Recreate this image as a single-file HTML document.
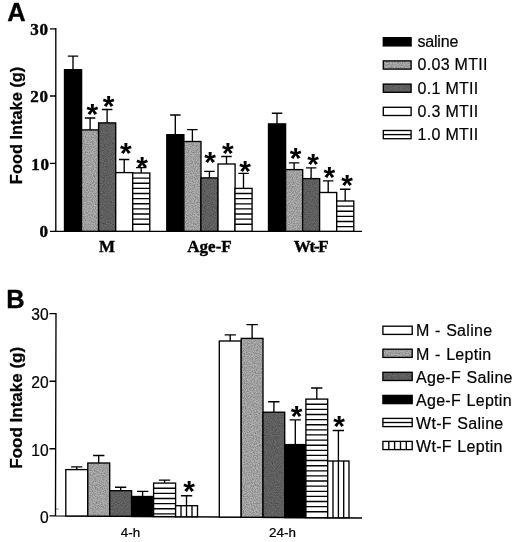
<!DOCTYPE html>
<html lang="en">
<head>
<meta charset="utf-8">
<title>Food intake figure</title>
<style>
html,body{margin:0;padding:0;background:#fff;}
body{width:520px;height:542px;overflow:hidden;}
svg{display:block;}
text{fill:#000;}
.sb{font-family:"Liberation Serif",serif;font-weight:bold;font-size:17px;stroke:#000;stroke-width:0.4px;}
.tk{font-family:"Liberation Sans",sans-serif;font-size:15.6px;stroke:#000;stroke-width:0.22px;}
.lg{font-family:"Liberation Sans",sans-serif;font-size:16px;letter-spacing:0.3px;stroke:#000;stroke-width:0.2px;}
.yl{font-family:"Liberation Sans",sans-serif;font-weight:bold;font-size:16.4px;stroke:#000;stroke-width:0.25px;}
.pl{font-family:"Liberation Sans",sans-serif;font-weight:bold;font-size:25.5px;stroke:#000;stroke-width:0.3px;}
.st{font-family:"Liberation Sans",sans-serif;font-weight:bold;text-anchor:middle;dominant-baseline:auto;}
</style>
</head>
<body>
<svg width="520" height="542" viewBox="0 0 520 542">
<defs>
<filter id="nz" x="0" y="0" width="100%" height="100%" color-interpolation-filters="sRGB">
<feTurbulence type="fractalNoise" baseFrequency="0.9" numOctaves="2" seed="7" result="t"/>
<feColorMatrix in="t" type="matrix" values="0 0 0 0 0  0 0 0 0 0  0 0 0 0 0  0.6 0 0 0 -0.215" result="a"/>
<feFlood flood-color="#000" result="k"/>
<feComposite in="k" in2="a" operator="in" result="dots"/>
<feComposite in="dots" in2="SourceGraphic" operator="in" result="d2"/>
<feMerge><feMergeNode in="SourceGraphic"/><feMergeNode in="d2"/></feMerge>
</filter>
</defs>
<rect width="520" height="542" fill="#fff"/>
<path d="M50 28.8H55.8M50 96H55.8M50 163.4H55.8M50 231.3H55.8M55.8 28.1V231.3H362" fill="none" stroke="#000" stroke-width="1.35"/>
<path d="M67.8 56.1H78.3M73.0 56.1V69.7" fill="none" stroke="#000" stroke-width="1.35"/>
<rect x="64.5" y="69.7" width="17.1" height="161.6" fill="#000" stroke="#000" stroke-width="1.35"/>
<path d="M84.8 118.0H95.3M90.1 118.0V129.9" fill="none" stroke="#000" stroke-width="1.35"/>
<rect x="81.5" y="129.9" width="17.1" height="101.4" fill="#afafaf" filter="url(#nz)"/>
<rect x="81.5" y="129.9" width="17.1" height="101.4" fill="none" stroke="#000" stroke-width="1.35"/>
<text x="92.4" y="124.3" class="st" font-size="30">*</text>
<path d="M101.9 109.5H112.4M107.1 109.5V122.9" fill="none" stroke="#000" stroke-width="1.35"/>
<rect x="98.6" y="122.9" width="17.1" height="108.4" fill="#686868" filter="url(#nz)"/>
<rect x="98.6" y="122.9" width="17.1" height="108.4" fill="none" stroke="#000" stroke-width="1.35"/>
<text x="108.7" y="115.8" class="st" font-size="30">*</text>
<path d="M118.9 159.5H129.4M124.2 159.5V172.6" fill="none" stroke="#000" stroke-width="1.35"/>
<rect x="115.7" y="172.6" width="17.1" height="58.7" fill="#fff" stroke="#000" stroke-width="1.35"/>
<text x="125.8" y="163.3" class="st" font-size="30">*</text>
<path d="M136.0 167.6H146.5M141.2 167.6V173.0" fill="none" stroke="#000" stroke-width="1.35"/>
<rect x="132.7" y="173.0" width="17.1" height="58.3" fill="#fff" stroke="none"/>
<path d="M132.7 178.1H149.8M132.7 183.2H149.8M132.7 188.4H149.8M132.7 193.5H149.8M132.7 198.6H149.8M132.7 203.7H149.8M132.7 208.8H149.8M132.7 214.0H149.8M132.7 219.1H149.8M132.7 224.2H149.8" stroke="#000" stroke-width="1.35"/>
<rect x="132.7" y="173.0" width="17.1" height="58.3" fill="none" stroke="#000" stroke-width="1.35"/>
<text x="142.1" y="177.3" class="st" font-size="30">*</text>
<path d="M170.1 115.0H180.6M175.3 115.0V134.7" fill="none" stroke="#000" stroke-width="1.35"/>
<rect x="166.8" y="134.7" width="17.1" height="96.6" fill="#000" stroke="#000" stroke-width="1.35"/>
<path d="M187.1 129.6H197.6M192.4 129.6V141.5" fill="none" stroke="#000" stroke-width="1.35"/>
<rect x="183.9" y="141.5" width="17.1" height="89.8" fill="#afafaf" filter="url(#nz)"/>
<rect x="183.9" y="141.5" width="17.1" height="89.8" fill="none" stroke="#000" stroke-width="1.35"/>
<path d="M204.2 171.4H214.7M209.4 171.4V177.9" fill="none" stroke="#000" stroke-width="1.35"/>
<rect x="200.9" y="177.9" width="17.1" height="53.4" fill="#686868" filter="url(#nz)"/>
<rect x="200.9" y="177.9" width="17.1" height="53.4" fill="none" stroke="#000" stroke-width="1.35"/>
<text x="210.2" y="171.6" class="st" font-size="30">*</text>
<path d="M221.2 156.5H231.7M226.5 156.5V164.0" fill="none" stroke="#000" stroke-width="1.35"/>
<rect x="218.0" y="164.0" width="17.1" height="67.3" fill="#fff" stroke="#000" stroke-width="1.35"/>
<text x="227.8" y="162.8" class="st" font-size="30">*</text>
<path d="M238.3 173.4H248.8M243.5 173.4V188.4" fill="none" stroke="#000" stroke-width="1.35"/>
<rect x="235.0" y="188.4" width="17.1" height="42.9" fill="#fff" stroke="none"/>
<path d="M235.0 193.5H252.1M235.0 198.6H252.1M235.0 203.8H252.1M235.0 208.9H252.1M235.0 214.0H252.1M235.0 219.1H252.1M235.0 224.2H252.1" stroke="#000" stroke-width="1.35"/>
<rect x="235.0" y="188.4" width="17.1" height="42.9" fill="none" stroke="#000" stroke-width="1.35"/>
<text x="245.1" y="180.9" class="st" font-size="30">*</text>
<path d="M271.8 113.2H282.3M277.0 113.2V123.9" fill="none" stroke="#000" stroke-width="1.35"/>
<rect x="268.5" y="123.9" width="17.1" height="107.4" fill="#000" stroke="#000" stroke-width="1.35"/>
<path d="M288.8 162.8H299.3M294.1 162.8V169.6" fill="none" stroke="#000" stroke-width="1.35"/>
<rect x="285.6" y="169.6" width="17.1" height="61.7" fill="#afafaf" filter="url(#nz)"/>
<rect x="285.6" y="169.6" width="17.1" height="61.7" fill="none" stroke="#000" stroke-width="1.35"/>
<text x="295.6" y="168.3" class="st" font-size="30">*</text>
<path d="M305.9 167.8H316.4M311.1 167.8V178.6" fill="none" stroke="#000" stroke-width="1.35"/>
<rect x="302.6" y="178.6" width="17.1" height="52.7" fill="#686868" filter="url(#nz)"/>
<rect x="302.6" y="178.6" width="17.1" height="52.7" fill="none" stroke="#000" stroke-width="1.35"/>
<text x="313.2" y="173.8" class="st" font-size="30">*</text>
<path d="M322.9 180.9H333.4M328.2 180.9V192.5" fill="none" stroke="#000" stroke-width="1.35"/>
<rect x="319.6" y="192.5" width="17.1" height="38.8" fill="#fff" stroke="#000" stroke-width="1.35"/>
<text x="329.4" y="187.2" class="st" font-size="30">*</text>
<path d="M340.0 189.2H350.5M345.2 189.2V201.0" fill="none" stroke="#000" stroke-width="1.35"/>
<rect x="336.7" y="201.0" width="17.1" height="30.3" fill="#fff" stroke="none"/>
<path d="M336.7 206.1H353.8M336.7 211.2H353.8M336.7 216.4H353.8M336.7 221.5H353.8M336.7 226.6H353.8" stroke="#000" stroke-width="1.35"/>
<rect x="336.7" y="201.0" width="17.1" height="30.3" fill="none" stroke="#000" stroke-width="1.35"/>
<text x="347.1" y="195.3" class="st" font-size="30">*</text>
<text x="48.8" y="34.8" class="sb" style="letter-spacing:0.8px" text-anchor="end">30</text>
<text x="48.8" y="102.0" class="sb" style="letter-spacing:0.8px" text-anchor="end">20</text>
<text x="49.8" y="170.1" class="sb" style="letter-spacing:0.8px" text-anchor="end">10</text>
<text x="48.8" y="237.3" class="sb" style="letter-spacing:0.8px" text-anchor="end">0</text>
<text x="107" y="251.9" class="sb" text-anchor="middle">M</text>
<text x="209.5" y="251.9" class="sb" text-anchor="middle">Age-F</text>
<text x="310.6" y="251.9" class="sb" text-anchor="middle" style="letter-spacing:-1.3px">Wt-F</text>
<text x="7.2" y="21.2" class="pl">A</text>
<text transform="translate(22.3 125.4) rotate(-90)" class="yl" text-anchor="middle">Food Intake (g)</text>
<rect x="383.3" y="37.7" width="27.8" height="8.2" fill="#000" stroke="#000" stroke-width="1.35"/>
<text x="417.5" y="46.8" class="lg" style="letter-spacing:-0.2px">saline</text>
<rect x="383.3" y="60.9" width="27.8" height="8.2" fill="#afafaf" filter="url(#nz)"/>
<rect x="383.3" y="60.9" width="27.8" height="8.2" fill="none" stroke="#000" stroke-width="1.35"/>
<text x="417.5" y="70.2" class="lg">0.03 MTII</text>
<rect x="383.3" y="84.1" width="27.8" height="8.2" fill="#686868" filter="url(#nz)"/>
<rect x="383.3" y="84.1" width="27.8" height="8.2" fill="none" stroke="#000" stroke-width="1.35"/>
<text x="417.5" y="93.6" class="lg">0.1 MTII</text>
<rect x="383.3" y="107.3" width="27.8" height="8.2" fill="#fff" stroke="#000" stroke-width="1.35"/>
<text x="417.5" y="117.0" class="lg">0.3 MTII</text>
<rect x="383.3" y="130.5" width="27.8" height="8.2" fill="#fff" stroke="#000" stroke-width="1.35"/>
<path d="M383.3 134.6H411.1" stroke="#000" stroke-width="1.35"/>
<text x="417.5" y="140.4" class="lg">1.0 MTII</text>
<path d="M49.5 313.6H55.8M49.5 381.2H55.8M49.5 448.7H55.8M49.5 515.9H55.8M56.0 313L55.5 515.9L362 518.0" fill="none" stroke="#000" stroke-width="1.35"/>
<path d="M56 509H58.5" stroke="#777" stroke-width="1"/>
<path d="M71.1 466.8H82.4M76.8 466.8V469.6" fill="none" stroke="#000" stroke-width="1.35"/>
<rect x="65.8" y="469.6" width="22.0" height="46.4" fill="#fff" stroke="#000" stroke-width="1.35"/>
<path d="M93.1 455.5H104.4M98.7 455.5V463.0" fill="none" stroke="#000" stroke-width="1.35"/>
<rect x="87.8" y="463.0" width="21.9" height="53.2" fill="#afafaf" filter="url(#nz)"/>
<rect x="87.8" y="463.0" width="21.9" height="53.2" fill="none" stroke="#000" stroke-width="1.35"/>
<path d="M115.0 487.2H126.3M120.7 487.2V490.7" fill="none" stroke="#000" stroke-width="1.35"/>
<rect x="109.7" y="490.7" width="21.9" height="25.6" fill="#686868" filter="url(#nz)"/>
<rect x="109.7" y="490.7" width="21.9" height="25.6" fill="none" stroke="#000" stroke-width="1.35"/>
<path d="M137.0 491.4H148.3M142.6 491.4V496.5" fill="none" stroke="#000" stroke-width="1.35"/>
<rect x="131.6" y="496.5" width="22.0" height="20.0" fill="#000" stroke="#000" stroke-width="1.35"/>
<path d="M158.9 480.1H170.2M164.6 480.1V483.1" fill="none" stroke="#000" stroke-width="1.35"/>
<rect x="153.6" y="483.1" width="22.0" height="33.5" fill="#fff" stroke="none"/>
<path d="M153.6 488.2H175.6M153.6 493.3H175.6M153.6 498.5H175.6M153.6 503.6H175.6M153.6 508.7H175.6M153.6 513.8H175.6" stroke="#000" stroke-width="1.35"/>
<rect x="153.6" y="483.1" width="22.0" height="33.5" fill="none" stroke="#000" stroke-width="1.35"/>
<rect x="175.6" y="505.7" width="21.9" height="11.1" fill="#fff" stroke="#000" stroke-width="1.35"/>
<path d="M181.0 505.7V516.8006225M186.5 505.7V516.8006225M192.0 505.7V516.8006225" stroke="#000" stroke-width="1.35"/>
<path d="M180.9 495.7H192.2M186.5 495.7V505.7" fill="none" stroke="#000" stroke-width="1.35"/>
<text x="189.1" y="501.2" class="st" font-size="30">*</text>
<path d="M224.6 334.8H235.9M230.2 334.8V341.0" fill="none" stroke="#000" stroke-width="1.35"/>
<rect x="219.3" y="341.0" width="21.9" height="176.1" fill="#fff" stroke="#000" stroke-width="1.35"/>
<path d="M246.4 324.6H257.8M252.1 324.6V338.4" fill="none" stroke="#000" stroke-width="1.35"/>
<rect x="241.2" y="338.4" width="21.8" height="178.9" fill="#afafaf" filter="url(#nz)"/>
<rect x="241.2" y="338.4" width="21.8" height="178.9" fill="none" stroke="#000" stroke-width="1.35"/>
<path d="M268.2 401.7H279.5M273.9 401.7V412.2" fill="none" stroke="#000" stroke-width="1.35"/>
<rect x="263.0" y="412.2" width="21.7" height="105.2" fill="#686868" filter="url(#nz)"/>
<rect x="263.0" y="412.2" width="21.7" height="105.2" fill="none" stroke="#000" stroke-width="1.35"/>
<path d="M289.6 419.8H300.9M295.3 419.8V444.6" fill="none" stroke="#000" stroke-width="1.35"/>
<rect x="284.7" y="444.6" width="21.2" height="73.0" fill="#000" stroke="#000" stroke-width="1.35"/>
<text x="296.6" y="425.9" class="st" font-size="30">*</text>
<path d="M311.1 388.0H322.4M316.8 388.0V399.1" fill="none" stroke="#000" stroke-width="1.35"/>
<rect x="305.9" y="399.1" width="21.8" height="118.6" fill="#fff" stroke="none"/>
<path d="M305.9 404.2H327.7M305.9 409.3H327.7M305.9 414.5H327.7M305.9 419.6H327.7M305.9 424.7H327.7M305.9 429.8H327.7M305.9 434.9H327.7M305.9 440.1H327.7M305.9 445.2H327.7M305.9 450.3H327.7M305.9 455.4H327.7M305.9 460.5H327.7M305.9 465.7H327.7M305.9 470.8H327.7M305.9 475.9H327.7M305.9 481.0H327.7M305.9 486.1H327.7M305.9 491.3H327.7M305.9 496.4H327.7M305.9 501.5H327.7M305.9 506.6H327.7M305.9 511.7H327.7" stroke="#000" stroke-width="1.35"/>
<rect x="305.9" y="399.1" width="21.8" height="118.6" fill="none" stroke="#000" stroke-width="1.35"/>
<rect x="327.7" y="461.0" width="21.3" height="56.8" fill="#fff" stroke="#000" stroke-width="1.35"/>
<path d="M333.0 461.0V517.848215M338.4 461.0V517.848215M343.7 461.0V517.848215" stroke="#000" stroke-width="1.35"/>
<path d="M332.7 430.5H344.0M338.4 430.5V461.0" fill="none" stroke="#000" stroke-width="1.35"/>
<text x="339.2" y="435.7" class="st" font-size="30">*</text>
<text x="48.6" y="320.4" class="tk" text-anchor="end">30</text>
<text x="48.6" y="388.0" class="tk" text-anchor="end">20</text>
<text x="48.6" y="455.5" class="tk" text-anchor="end">10</text>
<text x="48.6" y="522.7" class="tk" text-anchor="end">0</text>
<text x="130.5" y="537.3" class="tk" style="font-size:13.4px" text-anchor="middle">4-h</text>
<text x="282.5" y="537.3" class="tk" style="font-size:13.4px" text-anchor="middle">24-h</text>
<text x="6.2" y="308.2" class="pl">B</text>
<text transform="translate(22.3 407.8) rotate(-90)" class="yl" style="font-size:17px" text-anchor="middle">Food Intake (g)</text>
<rect x="382.9" y="326.2" width="29.3" height="8.2" fill="#fff" stroke="#000" stroke-width="1.35"/>
<text x="416" y="336.4" class="lg" style="word-spacing:0.7px">M - Saline</text>
<rect x="382.9" y="349.2" width="29.3" height="8.2" fill="#afafaf" filter="url(#nz)"/>
<rect x="382.9" y="349.2" width="29.3" height="8.2" fill="none" stroke="#000" stroke-width="1.35"/>
<text x="416" y="359.5" class="lg" style="word-spacing:0.7px">M - Leptin</text>
<rect x="382.9" y="372.3" width="29.3" height="8.2" fill="#686868" filter="url(#nz)"/>
<rect x="382.9" y="372.3" width="29.3" height="8.2" fill="none" stroke="#000" stroke-width="1.35"/>
<text x="416" y="382.7" class="lg" style="word-spacing:0.7px">Age-F Saline</text>
<rect x="382.9" y="395.4" width="29.3" height="8.2" fill="#000" stroke="#000" stroke-width="1.35"/>
<text x="416" y="405.8" class="lg" style="word-spacing:0.7px">Age-F Leptin</text>
<rect x="382.9" y="418.4" width="29.3" height="8.2" fill="#fff" stroke="#000" stroke-width="1.35"/>
<path d="M382.9 422.5H412.2" stroke="#000" stroke-width="1.35"/>
<text x="416" y="429.0" class="lg" style="word-spacing:0.7px">Wt-F Saline</text>
<rect x="382.9" y="441.4" width="29.3" height="8.2" fill="#fff" stroke="#000" stroke-width="1.35"/>
<path d="M388.8 441.4V449.7M394.6 441.4V449.7M400.5 441.4V449.7M406.3 441.4V449.7" stroke="#000" stroke-width="1.35"/>
<text x="416" y="452.1" class="lg" style="word-spacing:0.7px">Wt-F Leptin</text>
</svg>
</body>
</html>
